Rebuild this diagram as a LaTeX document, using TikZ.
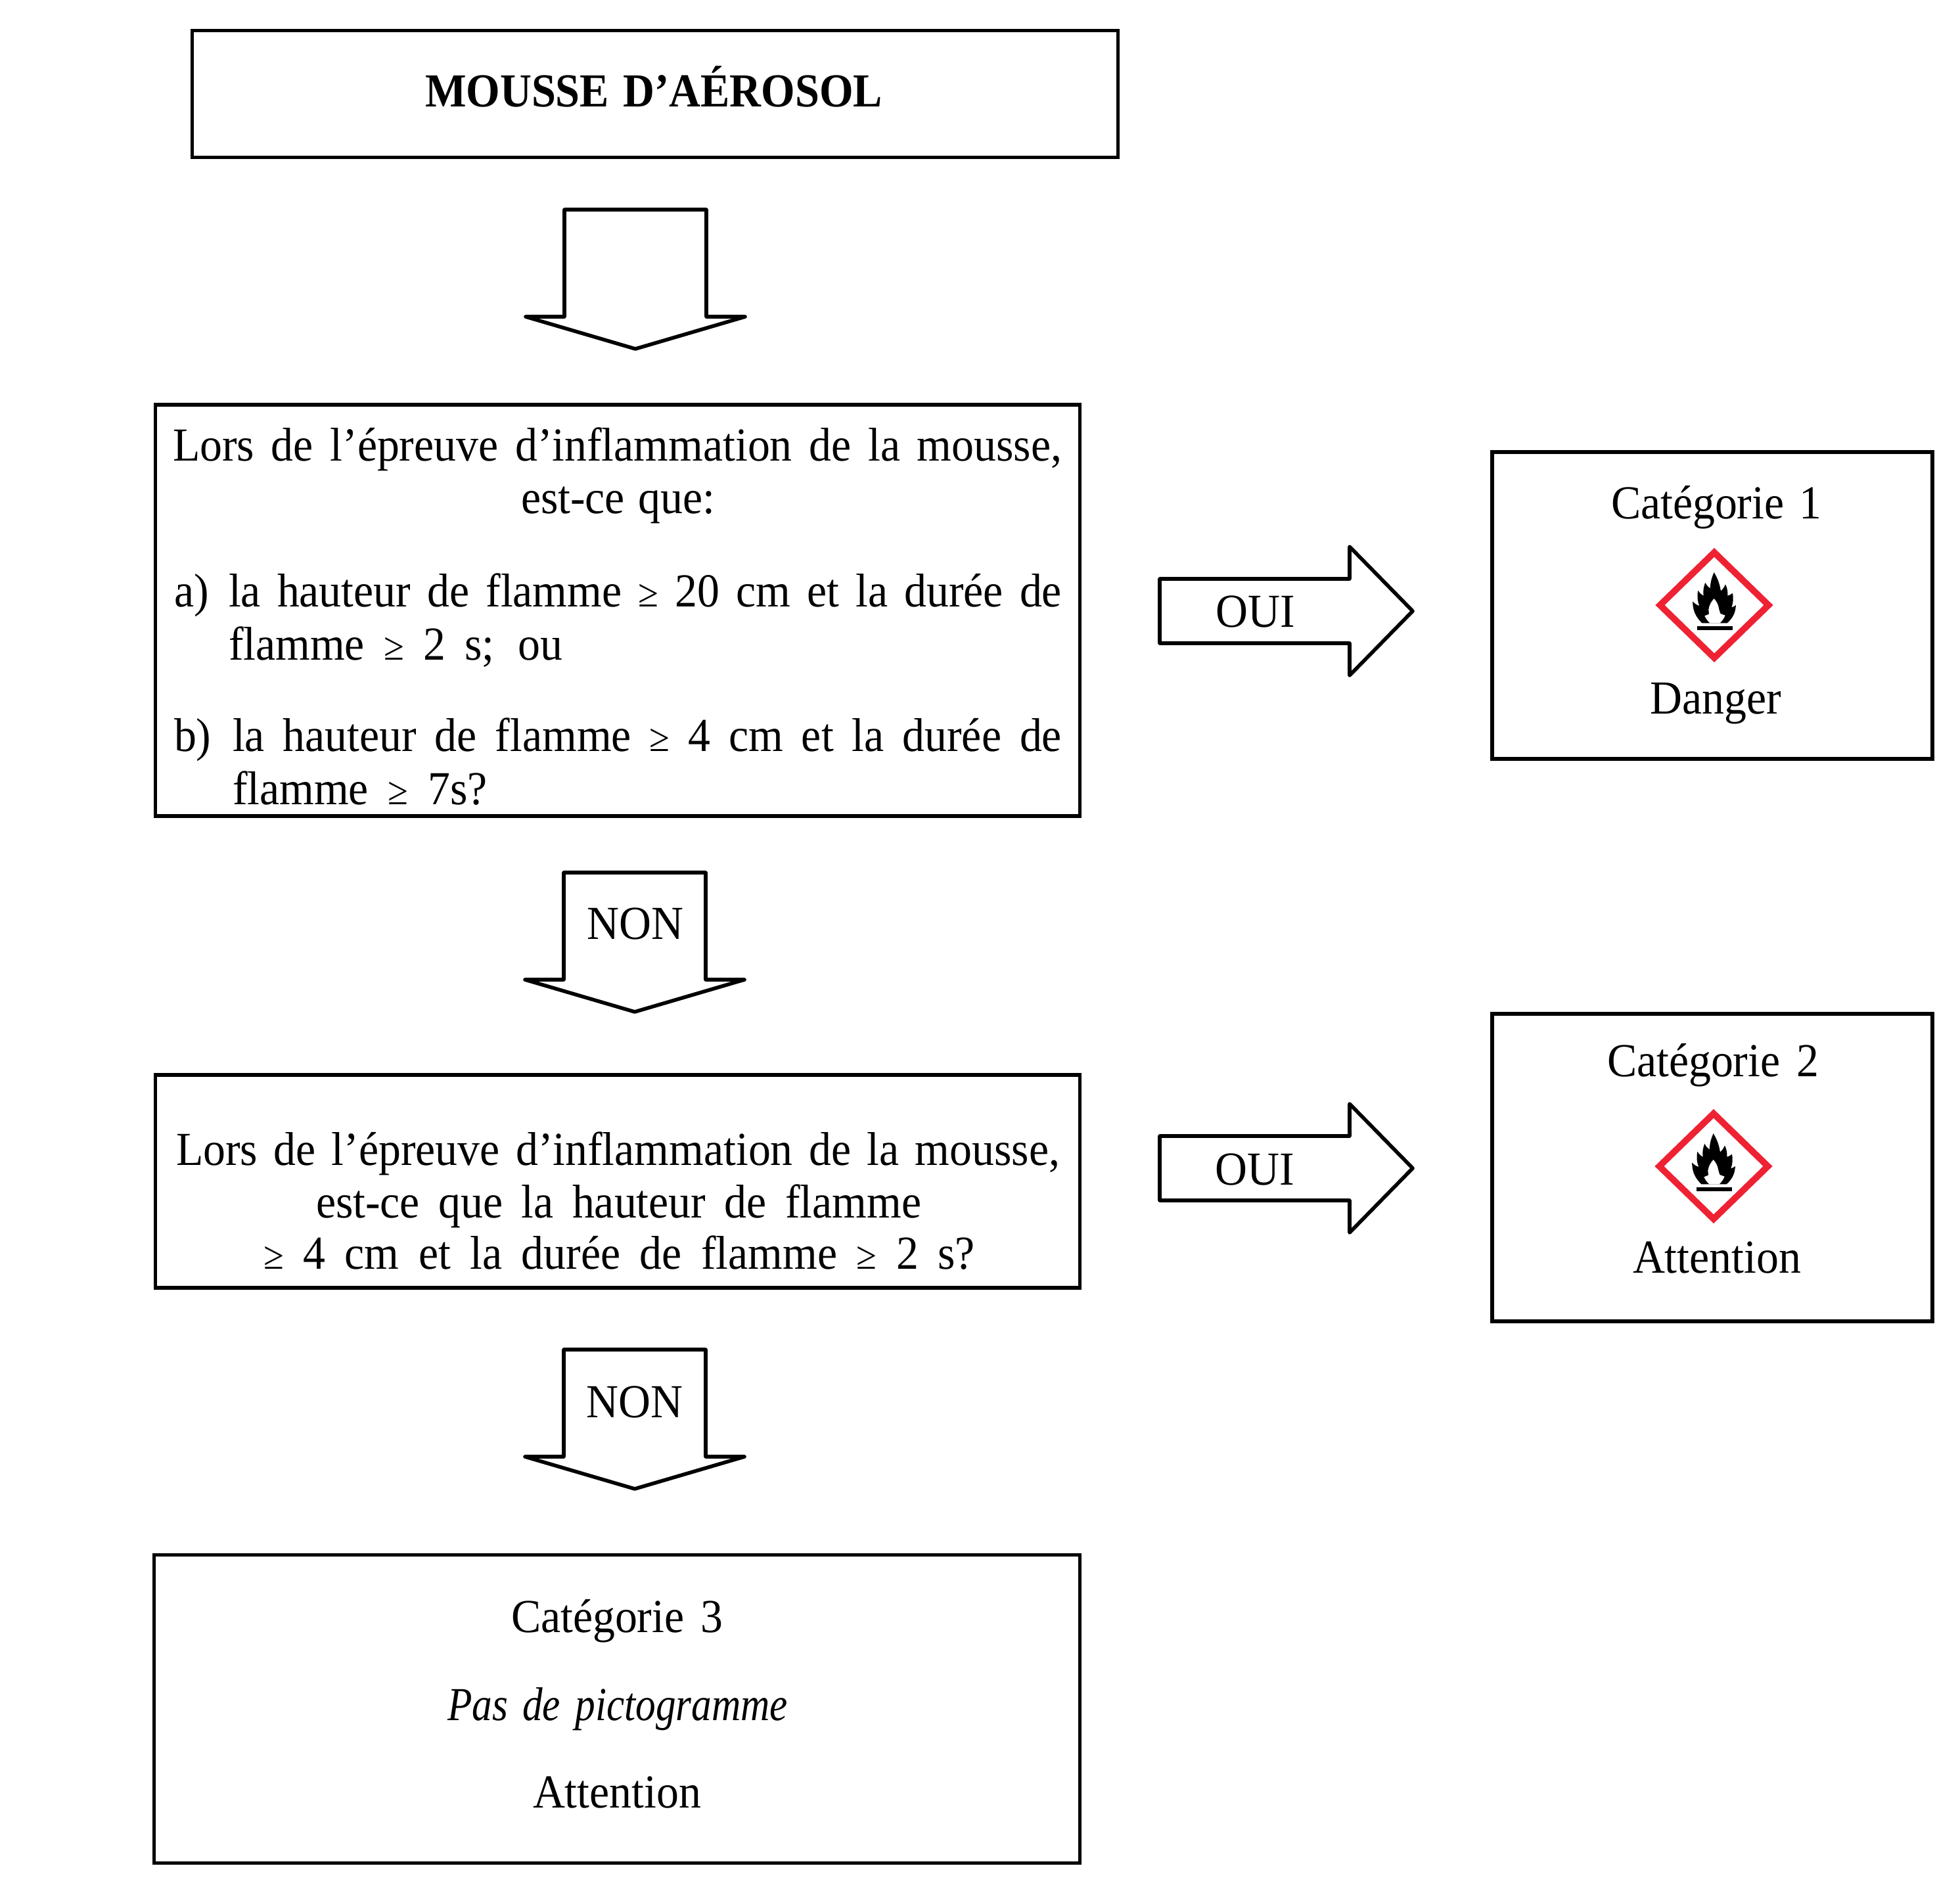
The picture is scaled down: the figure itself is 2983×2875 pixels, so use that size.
\documentclass[tikz,border=0pt]{standalone}
\usepackage{fontspec}
\setmainfont[FakeStretch=0.94,ItalicFeatures={FakeStretch=0.85},BoldFeatures={FakeStretch=0.92}]{Liberation Serif}
\usetikzlibrary{shapes.geometric}
\newcommand{\gesm}{{\fontsize{17}{17}\selectfont ≥}}
\tikzset{
  boxst/.style={draw=black,line width=1.6pt,fill=white,inner sep=0pt,rectangle},
  blockst/.style={draw=black,line width=1.6pt,fill=white,line join=round},
  txt/.style={anchor=base west,inner sep=0pt,outer sep=0pt,font=\fontsize{20.5}{24}\selectfont}
}
% name, x, baseline y, width, text
\newcommand{\tl}[5]{\node[txt] (#1) at (#2,#3) {\makebox[\dimexpr 0.01cm*#4\relax][s]{#5}};}
\newcommand{\tc}[4]{\node[txt,anchor=base] (#1) at (#2,#3) {#4};}
\newcommand{\blockdown}[2]{\draw[blockst,shift={(#1,#2)}] (-108,0) -- (108,0) -- (108,163) -- (167,163) -- (0,212) -- (-167,163) -- (-108,163) -- cycle;}
\newcommand{\blockright}[2]{\draw[blockst,shift={(#1,#2)}] (0,-49) -- (289,-49) -- (289,-98) -- (385,0) -- (289,98) -- (289,49) -- (0,49) -- cycle;}
\newcommand{\ghs}[2]{%
\begin{scope}[shift={(#1,#2)},x=0.0033333cm,y=-0.0033333cm,shift={(-386,-365)}]
  \draw[draw=ghsred,line width=2.8pt,miter limit=10,line join=miter] (138,365) -- (386,124) -- (634,365) -- (386,606) -- cycle;
  \fill[black] (330,447) to[bend left=22] (287,348) to[bend right=14] (318,368) to[bend left=16] (312,298)
    to[bend right=14] (337,322) to[bend left=14] (345,262) to[bend right=14] (367,288)
    to[bend left=10] (385,215) to[bend left=10] (416,300) to[bend right=12] (437,270)
    to[bend left=14] (447,322) to[bend right=12] (470,310) to[bend left=14] (465,375)
    to[bend right=12] (485,365) to[bend left=22] (445,447) -- cycle;
  \fill[white] (366,447) to[bend left=10] (342,414) to[bend right=5] (362,406) to[bend left=5] (360,385)
    to[bend left=16] (385,335) to[bend left=16] (408,385) to[bend right=5] (414,404) to[bend left=5] (436,412)
    to[bend left=10] (412,447) -- cycle;
  \fill[black] (308,460) rectangle (470,480);
\end{scope}}
\definecolor{ghsred}{HTML}{EE2233}
\begin{document}
\begin{tikzpicture}[x=0.01cm,y=-0.01cm]
\useasboundingbox (0,0) rectangle (2983,2875);
% boxes
\node[boxst,minimum width=14.08cm,minimum height=1.93cm] (title) at (997,143) {};
\node[boxst,minimum width=14.06cm,minimum height=6.26cm] (q1) at (940,929) {};
\node[boxst,minimum width=14.06cm,minimum height=3.24cm] (q2) at (940,1798) {};
\node[boxst,minimum width=14.08cm,minimum height=4.69cm] (c3) at (939,2601) {};
\node[boxst,minimum width=6.70cm,minimum height=4.67cm] (c1) at (2606,921.5) {};
\node[boxst,minimum width=6.70cm,minimum height=4.68cm] (c2) at (2606,1777) {};
% block arrows
\blockdown{967}{319}
\blockdown{966}{1328}
\blockdown{966}{2054}
\blockright{1765}{930}
\blockright{1765}{1778}
% text
\tl{t0}{647}{162}{696}{\bfseries MOUSSE D’AÉROSOL}
\tl{a1}{263}{701}{1353}{Lors de l’épreuve d’inflammation de la mousse,}
\tl{a2}{793}{781}{295}{est-ce que:}
\tl{a3}{265}{923}{47}{a)}
\tl{a4}{348}{923}{1268}{la hauteur de flamme \gesm{} 20 cm et la durée de}
\tl{a5}{348}{1004}{508}{flamme \gesm{} 2 s; ou}
\tl{a6}{265}{1143}{52}{b)}
\tl{a7}{354}{1143}{1262}{la hauteur de flamme \gesm{} 4 cm et la durée de}
\tl{a8}{354}{1224}{388}{flamme \gesm{} 7s?}
\tl{b1}{268}{1773}{1345}{Lors de l’épreuve d’inflammation de la mousse,}
\tl{b2}{481}{1853}{921}{est-ce que la hauteur de flamme}
\tl{b3}{401}{1931}{1083}{\gesm{} 4 cm et la durée de flamme \gesm{} 2 s?}
\tc{n1}{967}{1429}{NON}
\tc{n2}{966}{2157}{NON}
\tc{o1}{1911}{954}{OUI}
\tc{o2}{1910}{1803}{OUI}
\tl{c1a}{2452}{789}{320}{Catégorie 1}
\tc{c1b}{2611}{1086}{Danger}
\tl{c2a}{2446}{1638}{322}{Catégorie 2}
\tc{c2b}{2613}{1937}{Attention}
\tl{c3a}{778}{2484}{322}{Catégorie 3}
\tl{c3b}{681}{2618}{518}{\itshape Pas de pictogramme}
\tc{c3c}{939}{2751}{Attention}
% pictograms
\ghs{2609}{921}
\ghs{2608}{1775}
\end{tikzpicture}
\end{document}
